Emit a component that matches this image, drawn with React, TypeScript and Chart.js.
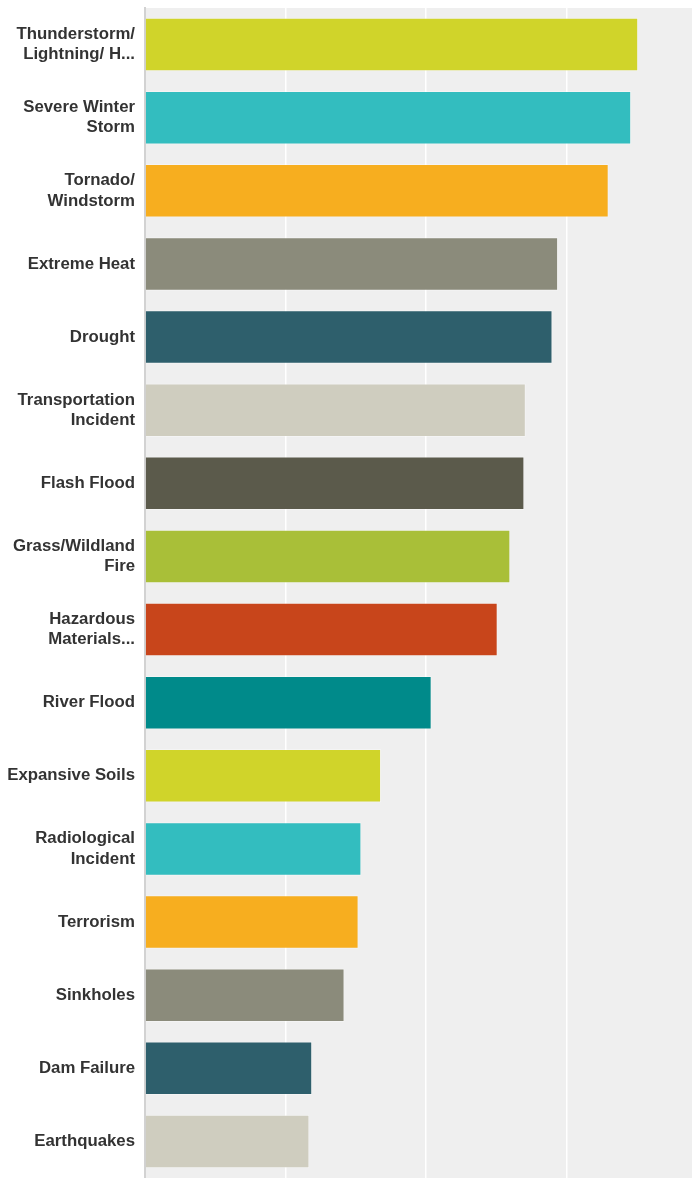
import React, { useEffect, useRef } from "react";
import { Chart, registerables } from "chart.js";

Chart.register(...registerables);

const categories: (string | string[])[] = [
  ["Thunderstorm/", "Lightning/ H..."],
  ["Severe Winter", "Storm"],
  ["Tornado/", "Windstorm"],
  "Extreme Heat",
  "Drought",
  ["Transportation", "Incident"],
  "Flash Flood",
  ["Grass/Wildland", "Fire"],
  ["Hazardous", "Materials..."],
  "River Flood",
  "Expansive Soils",
  ["Radiological", "Incident"],
  "Terrorism",
  "Sinkholes",
  "Dam Failure",
  "Earthquakes",
];

const values: number[] = [
  3.51, 3.46, 3.3, 2.94, 2.9, 2.71, 2.7, 2.6, 2.51, 2.04, 1.68, 1.54, 1.52, 1.42, 1.19, 1.17,
];

const barColors: string[] = [
  "#d0d42a",
  "#33bdbf",
  "#f7ae1f",
  "#8b8b7b",
  "#2e5f6c",
  "#cfcdbf",
  "#5b5a4b",
  "#a9bf38",
  "#c8451b",
  "#008a8a",
  "#d0d42a",
  "#33bdbf",
  "#f7ae1f",
  "#8b8b7b",
  "#2e5f6c",
  "#cfcdbf",
];

const plotBg = {
  id: "plotBg",
  beforeDraw(chart: any) {
    const { ctx, chartArea } = chart;
    if (!chartArea) return;
    ctx.save();
    ctx.fillStyle = "#efefef";
    ctx.fillRect(chartArea.left, chartArea.top, chartArea.right - chartArea.left + 2, chartArea.bottom - chartArea.top);
    ctx.restore();
  },
};

export default function App() {
  const ref = useRef<HTMLCanvasElement | null>(null);
  useEffect(() => {
    document.body.style.margin = "0";
    const chart = new Chart(ref.current as HTMLCanvasElement, {
      type: "bar",
      data: {
        labels: categories,
        datasets: [
          {
            data: values,
            backgroundColor: barColors,
            borderColor: "rgba(255,255,255,0.35)",
            borderWidth: 1,
            barPercentage: 0.73,
            categoryPercentage: 1,
          },
        ],
      },
      options: {
        indexAxis: "y",
        animation: false,
        responsive: true,
        maintainAspectRatio: false,
        layout: { padding: { top: 8, right: 0, bottom: 0, left: 0 } },
        plugins: { legend: { display: false }, tooltip: { enabled: false } },
        scales: {
          x: {
            min: 0,
            max: 3.9,
            afterFit(scale: any) {
              scale.height = 0;
              scale.paddingLeft = 0;
              scale.paddingRight = 0;
            },
            ticks: { display: false, stepSize: 1 },
            grid: { color: "#ffffff", lineWidth: 1.5, drawTicks: false },
            border: { display: false },
          },
          y: {
            afterFit(scale: any) {
              scale.width = 145;
              scale.paddingTop = 0;
              scale.paddingBottom = 0;
            },
            ticks: {
              padding: 10,
              color: "#333333",
              font: { family: "'Liberation Sans', Arial, sans-serif", size: 16.8, weight: "bold", lineHeight: 1.2 },
            },
            grid: { display: false, drawTicks: false },
            border: { display: true, color: "#d2d2d2", width: 2 },
          },
        },
      },
      plugins: [plotBg],
    });
    return () => chart.destroy();
  }, []);
  return (
    <div style={{ position: "absolute", left: 0, top: 0, width: 693, height: 1178 }}>
      <canvas ref={ref} />
    </div>
  );
}
